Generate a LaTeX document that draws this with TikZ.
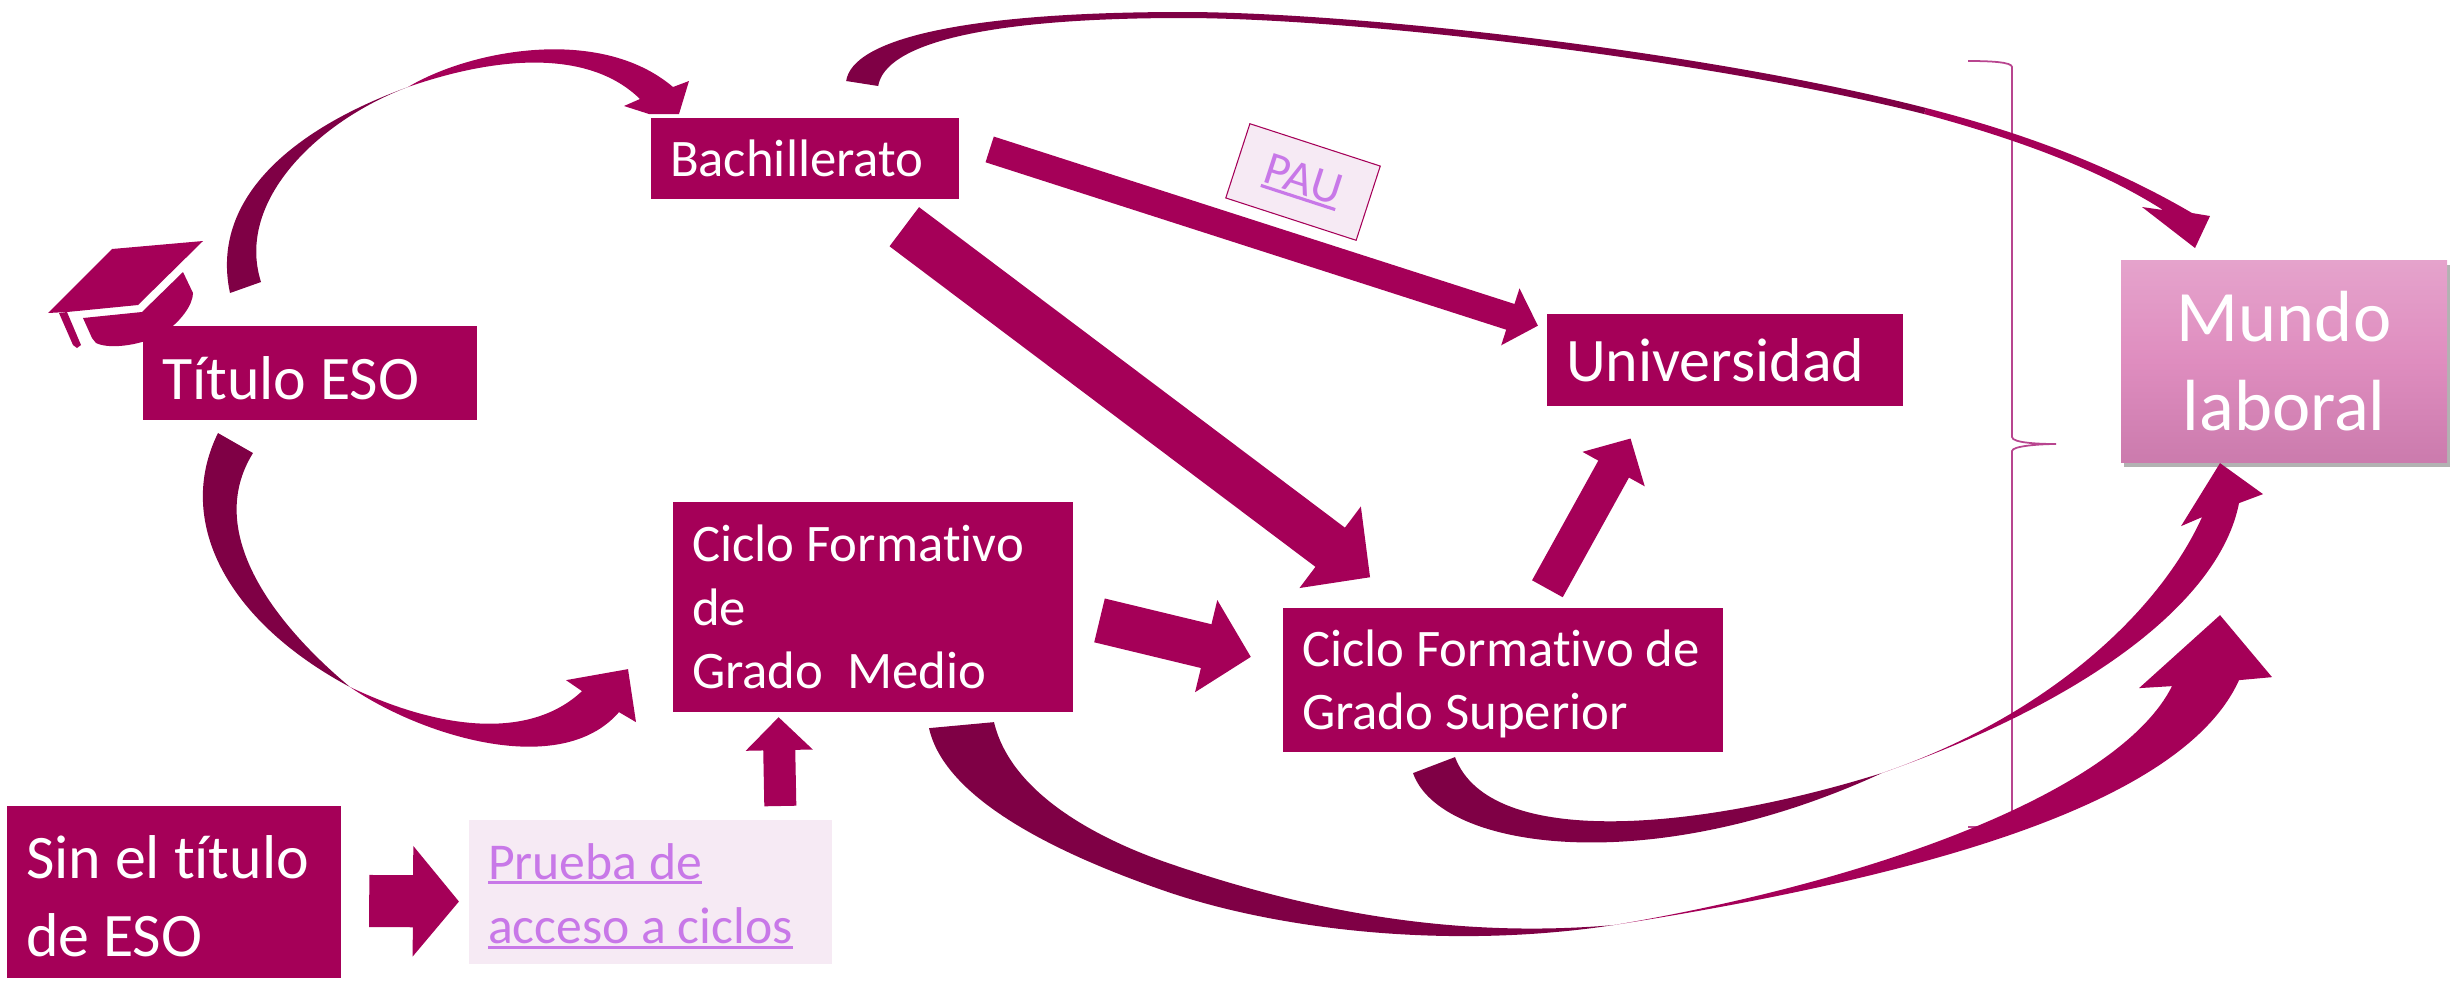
\documentclass[tikz,border=0pt]{standalone}
\usepackage{fontspec}
\setmainfont[Ligatures=NoCommon]{Carlito}
\usetikzlibrary{arrows.meta,shadows}
\definecolor{berry}{HTML}{A50058}
\definecolor{berrydark}{HTML}{7F0045}
\definecolor{paleback}{HTML}{F6EAF4}
\definecolor{linkcol}{HTML}{C878E8}
\definecolor{bracecol}{HTML}{B8458F}
\definecolor{mundotop}{HTML}{E5A3CC}
\definecolor{mundomid}{HTML}{DF8DBF}
\definecolor{mundobot}{HTML}{CB7BAD}
\newcommand{\linktext}[1]{\leavevmode\setbox0=\hbox{#1}\rlap{#1}\rule[-1.5pt]{\wd0}{0.9pt}}
\newcommand{\dropline}[1]{\rule{0pt}{#1}}
\tikzset{
  stepbox/.style={anchor=north west,fill=berry,text=white,align=flush left,inner xsep=1.9mm,inner ysep=0pt,outer sep=0pt},
  linkbox/.style={stepbox,fill=paleback,text=linkcol},
  flow/.style={draw=berry},
  backcurve/.style={fill=berrydark},
  frontcurve/.style={fill=berry},
}
\begin{document}
\begin{tikzpicture}[x=0.01cm,y=-0.01cm]
\useasboundingbox (0,0) rectangle (2458,981);
% llave
\draw[bracecol,line width=0.5pt] (1968,61) .. controls (1990,61) and (2012,62) .. (2012,67) -- (2012,437)
 .. controls (2012,443) and (2040,444) .. (2056,444) .. controls (2040,444) and (2012,446) .. (2012,451)
 -- (2012,821) .. controls (2012,826) and (1990,827) .. (1968,827);
% birrete
\fill[berry] (112,249) -- (203,241) -- (138,305) -- (67,312) -- (48,313) -- cycle;
\fill[berry] (59,313) -- (67,312) -- (81,345) -- (77,348) -- (73,345) -- cycle;
\fill[berry] (83,318) -- (142,312) -- (183,272) -- (193,293) .. controls (193,305) and (180,322) .. (165,332)
 .. controls (145,345) and (110,350) .. (96,343) -- (92,338) -- cycle;
% cajas
\node[stepbox,minimum height=9.4mm,text width=29.6mm,font=\fontsize{17.6}{20}\selectfont] (titulo) at (143,326) {\dropline{15pt}Título ESO};
\node[stepbox,minimum height=8.1mm,text width=27mm,font=\fontsize{15}{18}\selectfont] (bach) at (651,118) {Bachillerato};
\node[stepbox,minimum height=9.2mm,text width=31.8mm,font=\fontsize{17.6}{20}\selectfont] (uni) at (1547,314) {Universidad};
\node[stepbox,minimum height=21mm,text width=36.2mm,font=\fontsize{15}{18.1}\selectfont] (medio) at (673,502) {Ciclo Formativo\\de\\Grado\ \ Medio};
\node[stepbox,minimum height=14.4mm,text width=40.2mm,font=\fontsize{15}{18.1}\selectfont] (superior) at (1283,608) {\dropline{12.7pt}Ciclo Formativo de\\Grado Superior};
\node[stepbox,minimum height=17.2mm,text width=29.6mm,font=\fontsize{17.6}{22}\selectfont] (sintitulo) at (7,806) {\dropline{14.6pt}Sin el título\\de ESO};
\node[linkbox,minimum height=14.4mm,text width=32.5mm,font=\fontsize{14.7}{18.4}\selectfont] (prueba) at (469,820) {\dropline{12.5pt}\linktext{Prueba de}\\\linktext{acceso a ciclos}};
\node[stepbox,top color=mundotop,bottom color=mundobot,middle color=mundomid,general shadow={fill=black,opacity=.3,shadow xshift=0.3mm,shadow yshift=-0.5mm},
 minimum height=20.2mm,text width=28.8mm,align=center,font=\fontsize{20.6}{25.5}\selectfont] (mundo) at (2121,260) {Mundo\\laboral};
\node[fill=paleback,draw=berry,line width=0.3pt,rotate=-18,minimum width=13.7mm,minimum height=7.8mm,inner sep=0pt,text=linkcol,font=\fontsize{13.5}{14}\selectfont] (pau) at (1303,182) {\raisebox{-1.5pt}{\linktext{PAU}}\hspace{1.8mm}};
% flechas rectas
\draw[flow,-{Triangle[length=2.9mm,width=5.8mm]},line width=2.7mm,shorten <=3.2mm,shorten >=0.95mm] (bach.7.4) -- (uni.170.1);
\draw[flow,-{Triangle[length=5mm,width=9.9mm]},line width=4.9mm,shorten <=4.6mm,shorten >=5.1mm] (bach.-33.2) -- (superior.142.3);
\draw[flow,-{Triangle[length=4.6mm,width=9.2mm]},line width=4.5mm,shorten <=2.7mm,shorten >=3.3mm] (medio.-2.9) -- (superior.176.2);
\draw[flow,-{Triangle[length=3.5mm,width=6.9mm]},line width=3.5mm,shorten <=2.2mm,shorten >=3.7mm] (superior.65.6) -- (uni.-149.2);
\draw[flow,-{Triangle[length=3.3mm,width=6.5mm]},line width=3.2mm,shorten <=1.4mm,shorten >=0.5mm] (prueba.29.1) -- (medio.228.5);
\draw[flow,-{Triangle[length=4.6mm,width=10.8mm]},line width=5.2mm,shorten <=2.8mm,shorten >=1mm] (sintitulo.-3.4) -- (prueba.183.15);
% flechas curvas
\coordinate (esoup) at ([shift={(87,-33)}]titulo.north west);
\coordinate (bachin) at ([shift={(22,-31)}]bach.north west);
\coordinate (crossup) at (408,87);
\fill[backcurve] (esoup) .. controls (210,200) and (290,130) .. (crossup) .. controls (320,120) and (235,200) .. ([shift={(31,-11)}]esoup) -- cycle;
\fill[frontcurve] (crossup) .. controls (470,50) and (600,25) .. (bachin) -- ++(16,-6) -- ++(-10,33) -- ++(-30,0) -- ++(-25,-8) -- ++(16,-7)
 .. controls (590,50) and (500,55) .. (crossup) -- cycle;
\coordinate (bachup) at ([shift={(-113,-37)}]bach.north east);
\coordinate (mundoin) at ([shift={(71,-47)}]mundo.north west);
\coordinate (crosstop) at (1926,108);
\fill[backcurve] (bachup) .. controls (852,40) and (960,12) .. (1183,12) .. controls (1350,12) and (1700,50) .. (crosstop)
 -- ++(-2,6) .. controls (1700,58) and (1350,18) .. (1183,18) .. controls (980,18) and (885,45) .. ([shift={(32,5)}]bachup) -- cycle;
\fill[frontcurve] (crosstop) .. controls (2020,132) and (2110,165) .. (mundoin) -- ++(18,3) -- ++(-15,32) -- ++(-53,-41) -- ++(21,3)
 .. controls (2100,170) and (2020,140) .. ([shift={(-2,6)}]crosstop) -- cycle;
\coordinate (esodown) at ([shift={(75,13)}]titulo.south west);
\coordinate (medioin) at ([shift={(-54,0)}]medio.south west);
\coordinate (crossdown) at (350,687);
\fill[backcurve] (esodown) .. controls (175,520) and (225,620) .. (crossdown) .. controls (270,620) and (205,530) .. ([shift={(35,20)}]esodown) -- cycle;
\fill[frontcurve] (crossdown) .. controls (420,735) and (560,780) .. (medioin) -- ++(17,10) -- ++(-8,-53) -- ++(-62,11) -- ++(16,11)
 .. controls (530,740) and (440,730) .. (crossdown) -- cycle;
\coordinate (supout) at ([shift={(130,21)}]superior.south west);
\coordinate (mundobelow) at ([shift={(118,41)}]mundo.south west);
\coordinate (crosssup) at (1882,773);
\fill[backcurve] (supout) .. controls (1440,850) and (1650,880) .. (crosssup) .. controls (1700,830) and (1490,850) .. ([shift={(42,-16)}]supout) -- cycle;
\fill[frontcurve] (crosssup) .. controls (2090,700) and (2220,600) .. (mundobelow) -- ++(24,-9) -- ++(-43,-31) -- ++(-39,63) -- ++(21,-9)
 .. controls (2160,610) and (2050,715) .. (crosssup) -- cycle;
\coordinate (medioout) at ([shift={(256,16)}]medio.south west);
\coordinate (mundolow) at ([shift={(118,218)}]mundo.south west);
\coordinate (crossmed) at (1614,925);
\fill[backcurve] (medioout) .. controls (945,800) and (1060,855) .. (1168,892) .. controls (1280,930) and (1450,950) .. (crossmed)
 .. controls (1440,940) and (1290,905) .. (1168,863) .. controls (1090,836) and (1010,790) .. ([shift={(65,-6)}]medioout) -- cycle;
\fill[frontcurve] (crossmed) .. controls (1900,880) and (2180,810) .. (mundolow) -- ++(33,-3) -- ++(-52,-62) -- ++(-81,73) -- ++(33,-2)
 .. controls (2120,790) and (1880,880) .. (crossmed) -- cycle;
\end{tikzpicture}
\end{document}
